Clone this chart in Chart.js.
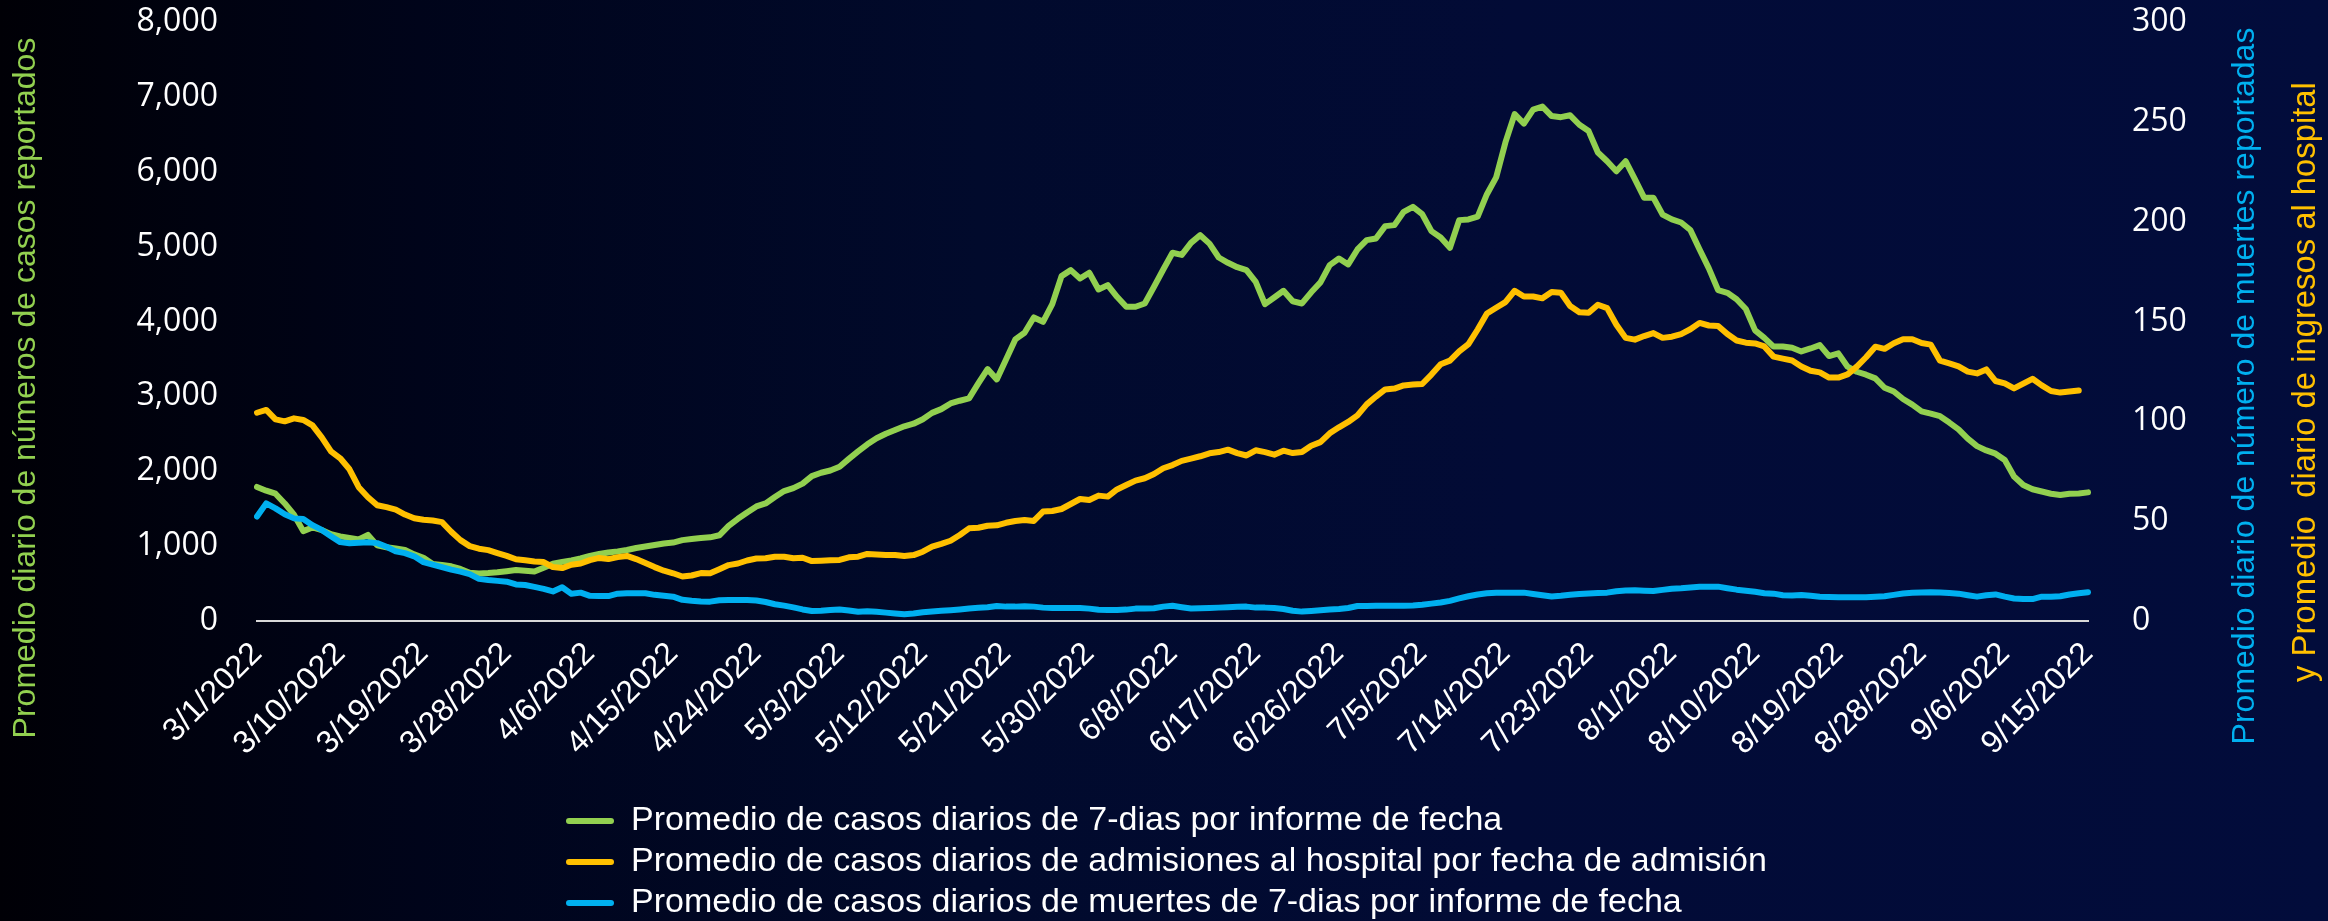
<!DOCTYPE html>
<html>
<head>
<meta charset="utf-8">
<script src="https://cdn.jsdelivr.net/npm/chart.js@4.4.1/dist/chart.umd.min.js"></script>
<style>
html,body{margin:0;padding:0;width:2328px;height:921px;overflow:hidden;}
body{background:linear-gradient(to right,#000006 0%,#00041a 18%,#010a2c 42%,#020b36 65%,#020c3b 100%);}
canvas{display:block;}
</style>
</head>
<body>
<canvas id="c" width="2328" height="921"></canvas>
<script>
const categories = [
"3/1/2022","3/2/2022","3/3/2022","3/4/2022","3/5/2022","3/6/2022","3/7/2022","3/8/2022","3/9/2022","3/10/2022",
"3/11/2022","3/12/2022","3/13/2022","3/14/2022","3/15/2022","3/16/2022","3/17/2022","3/18/2022","3/19/2022","3/20/2022",
"3/21/2022","3/22/2022","3/23/2022","3/24/2022","3/25/2022","3/26/2022","3/27/2022","3/28/2022","3/29/2022","3/30/2022","3/31/2022",
"4/1/2022","4/2/2022","4/3/2022","4/4/2022","4/5/2022","4/6/2022","4/7/2022","4/8/2022","4/9/2022","4/10/2022",
"4/11/2022","4/12/2022","4/13/2022","4/14/2022","4/15/2022","4/16/2022","4/17/2022","4/18/2022","4/19/2022","4/20/2022",
"4/21/2022","4/22/2022","4/23/2022","4/24/2022","4/25/2022","4/26/2022","4/27/2022","4/28/2022","4/29/2022","4/30/2022",
"5/1/2022","5/2/2022","5/3/2022","5/4/2022","5/5/2022","5/6/2022","5/7/2022","5/8/2022","5/9/2022","5/10/2022",
"5/11/2022","5/12/2022","5/13/2022","5/14/2022","5/15/2022","5/16/2022","5/17/2022","5/18/2022","5/19/2022","5/20/2022",
"5/21/2022","5/22/2022","5/23/2022","5/24/2022","5/25/2022","5/26/2022","5/27/2022","5/28/2022","5/29/2022","5/30/2022","5/31/2022",
"6/1/2022","6/2/2022","6/3/2022","6/4/2022","6/5/2022","6/6/2022","6/7/2022","6/8/2022","6/9/2022","6/10/2022",
"6/11/2022","6/12/2022","6/13/2022","6/14/2022","6/15/2022","6/16/2022","6/17/2022","6/18/2022","6/19/2022","6/20/2022",
"6/21/2022","6/22/2022","6/23/2022","6/24/2022","6/25/2022","6/26/2022","6/27/2022","6/28/2022","6/29/2022","6/30/2022",
"7/1/2022","7/2/2022","7/3/2022","7/4/2022","7/5/2022","7/6/2022","7/7/2022","7/8/2022","7/9/2022","7/10/2022",
"7/11/2022","7/12/2022","7/13/2022","7/14/2022","7/15/2022","7/16/2022","7/17/2022","7/18/2022","7/19/2022","7/20/2022",
"7/21/2022","7/22/2022","7/23/2022","7/24/2022","7/25/2022","7/26/2022","7/27/2022","7/28/2022","7/29/2022","7/30/2022","7/31/2022",
"8/1/2022","8/2/2022","8/3/2022","8/4/2022","8/5/2022","8/6/2022","8/7/2022","8/8/2022","8/9/2022","8/10/2022",
"8/11/2022","8/12/2022","8/13/2022","8/14/2022","8/15/2022","8/16/2022","8/17/2022","8/18/2022","8/19/2022","8/20/2022",
"8/21/2022","8/22/2022","8/23/2022","8/24/2022","8/25/2022","8/26/2022","8/27/2022","8/28/2022","8/29/2022","8/30/2022","8/31/2022",
"9/1/2022","9/2/2022","9/3/2022","9/4/2022","9/5/2022","9/6/2022","9/7/2022","9/8/2022","9/9/2022","9/10/2022",
"9/11/2022","9/12/2022","9/13/2022","9/14/2022","9/15/2022"
];

const tickLabels = ["3/1/2022","3/10/2022","3/19/2022","3/28/2022","4/6/2022","4/15/2022","4/24/2022","5/3/2022",
"5/12/2022","5/21/2022","5/30/2022","6/8/2022","6/17/2022","6/26/2022","7/5/2022","7/14/2022","7/23/2022",
"8/1/2022","8/10/2022","8/19/2022","8/28/2022","9/6/2022","9/15/2022"];

// left axis: 7-day average of reported cases
const casesAvg = [
1790,1740,1700,1570,1420,1200,1250,1215,1160,1130,
1110,1090,1150,1010,985,970,950,890,845,760,
748,730,695,645,636,640,650,665,680,670,
660,710,765,790,810,835,870,895,915,930,
948,975,995,1015,1035,1048,1080,1095,1108,1117,
1145,1270,1365,1450,1530,1570,1655,1735,1775,1835,
1935,1980,2010,2060,2165,2265,2360,2440,2500,2550,
2600,2635,2695,2780,2830,2905,2942,2973,3173,3364,
3227,3493,3761,3850,4054,3996,4232,4606,4686,4575,
4651,4428,4486,4330,4197,4197,4241,4464,4695,4918,
4890,5050,5153,5040,4855,4784,4725,4686,4530,4232,
4321,4410,4270,4241,4390,4522,4753,4842,4762,4962,
5087,5109,5274,5287,5465,5532,5434,5207,5122,4984,
5354,5363,5400,5700,5925,6392,6769,6644,6830,6870,
6744,6729,6754,6628,6543,6257,6141,6006,6141,5900,
5654,5654,5428,5363,5322,5222,4961,4710,4418,4383,
4298,4167,3881,3781,3665,3665,3650,3600,3640,3685,
3538,3574,3396,3329,3290,3240,3115,3065,2965,2890,
2800,2770,2735,2650,2560,2435,2336,2278,2235,2150,
1930,1816,1760,1730,1700,1682,1700,1704,1718
];

// right axis: hospital admissions
const hospAdmissions = [
104.3,105.7,101,100,101.5,100.7,98,92,85,81.5,
76,67,62,58,57,55.8,53.3,51.5,50.7,50.3,
49.5,44.7,40.5,37.5,36.2,35.5,34,32.6,30.9,30.4,
29.8,29.5,27,26.5,28.2,28.8,30.5,31.6,31,32,
32.6,31,29,27,25.2,23.9,22.3,22.8,24,23.9,
25.9,28,28.8,30.3,31.3,31.4,32.2,32.2,31.4,31.7,
30,30.2,30.4,30.6,31.9,32.2,33.6,33.3,33.1,33.1,
32.6,33,34.7,37.2,38.6,40.2,43.1,46.4,46.7,47.7,
47.9,49.2,50.1,50.6,50.1,54.8,55.1,56.1,58.6,61.1,
60.6,62.8,62.3,65.9,68.1,70.3,71.5,73.6,76.5,78.1,
80.2,81.3,82.5,84,84.6,85.8,84.1,82.9,85.5,84.6,
83.3,85.3,84.1,84.6,87.8,89.6,94,97,99.7,103,
108.5,112.4,116,116.4,118,118.4,118.7,123.4,128.6,130.4,
135,138.7,146,154,156.9,159.7,165.4,162.5,162.5,161.6,
164.8,164.4,157.8,154.6,154.4,158.4,156.7,148.4,141.8,140.9,
142.7,144.2,141.8,142.4,143.7,146.1,149.3,148,147.8,143.7,
140.5,139.4,139,137.5,132.4,131.4,130.5,127.5,125.3,124.5,
121.9,121.9,123.5,127.4,132.1,137.4,136.3,139.1,141.1,141.1,
139.2,138.4,130.4,129,127.5,124.9,124,126,120.2,119,
116.5,118.9,121.3,118,115.2,114.4,114.9,115.4,null
];

// right axis: 7-day average of deaths
const deathsAvg = [
52.3,58.9,56.4,53.5,51.4,51.1,48,45.6,42.5,39.5,
38.9,39.2,39.4,39,37.2,34.9,34,32.4,29.5,28.2,
27,25.7,24.7,23.5,21.1,20.5,20.1,19.7,18.3,18,
17.1,16.1,14.8,16.9,13.6,14.2,12.6,12.5,12.5,13.7,
13.9,13.9,13.9,13.1,12.6,12.2,10.6,10.1,9.8,9.7,
10.4,10.5,10.5,10.5,10.3,9.5,8.4,7.7,6.8,5.8,
5,5.1,5.5,5.8,5.3,4.6,4.9,4.6,4.2,3.8,
3.4,3.8,4.4,4.8,5.1,5.4,5.8,6.3,6.6,6.9,
7.5,7.2,7.2,7.4,7.2,6.7,6.5,6.5,6.5,6.5,
6.2,5.6,5.5,5.5,5.7,6.2,6.2,6.4,7.2,7.6,
6.9,6.3,6.4,6.5,6.7,6.9,7.1,7.2,6.7,6.7,
6.5,6,5.1,4.7,5,5.4,5.8,6,6.5,7.5,
7.5,7.6,7.7,7.7,7.7,7.8,8.1,8.7,9.3,10.1,
11.3,12.4,13.3,13.9,14.2,14.2,14.2,14.2,13.5,12.9,
12.3,12.6,13.1,13.5,13.8,14,14.2,14.9,15.3,15.4,
15.2,15,15.6,16.2,16.4,16.8,17.1,17.1,17.2,16.4,
15.7,15.2,14.6,13.9,13.7,12.9,12.8,13,12.6,12.2,
12,11.9,11.9,11.9,11.9,12.2,12.4,13.1,13.8,14.1,
14.3,14.4,14.3,14,13.7,12.9,12.2,12.9,13.3,12.2,
11.3,11,11,12.2,12.2,12.4,13.3,13.9,14.4
];

const seriesNames = [
"Promedio de casos diarios de 7-dias por informe de fecha",
"Promedio de casos diarios de admisiones al hospital por fecha de admisión",
"Promedio de casos diarios de muertes de 7-dias por informe de fecha"
];
const leftTitle = "Promedio diario de números de casos reportados";
const rightTitle1 = "Promedio diario de número de muertes reportadas";
const rightTitle2 = "y Promedio  diario de ingresos al hospital";

const GREEN = '#92d050', YELLOW = '#ffc000', BLUE = '#00b0f0';
const TXT = "'Liberation Sans', Arial, sans-serif";
const NUM = "'Open Sans', 'Noto Sans', sans-serif";

const titlesPlugin = {
  id: 'axisTitles',
  afterDraw(chart) {
    const ctx = chart.ctx;
    const draw = (text, x, y, color, size) => {
      ctx.save();
      ctx.translate(x, y);
      ctx.rotate(-Math.PI / 2);
      ctx.font = size + "px " + TXT;
      ctx.fillStyle = color;
      ctx.textAlign = 'center';
      ctx.textBaseline = 'middle';
      ctx.fillText(text, 0, 0);
      ctx.restore();
    };
    draw(leftTitle, 26, 388, GREEN, 32);
    draw(rightTitle1, 2245, 386, BLUE, 32);
    draw(rightTitle2, 2306, 382, YELLOW, 32.8);
  }
};

const legendPlacer = {
  id: 'legendPlacer',
  beforeDraw(chart) {
    const lg = chart.legend;
    if (!lg) return;
    const h = lg.height;
    lg.left = 559; lg.right = 2328; lg.width = lg.right - lg.left;
    lg.top = 797; lg.bottom = 797 + h;
  }
};

function build() {
  new Chart(document.getElementById('c'), {
    type: 'line',
    data: {
      labels: categories,
      datasets: [
        {label: seriesNames[0], data: casesAvg, yAxisID: 'y', borderColor: GREEN, backgroundColor: GREEN, order: 3},
        {label: seriesNames[1], data: hospAdmissions, yAxisID: 'y1', borderColor: YELLOW, backgroundColor: YELLOW, order: 2},
        {label: seriesNames[2], data: deathsAvg, yAxisID: 'y1', borderColor: BLUE, backgroundColor: BLUE, order: 1}
      ]
    },
    options: {
      responsive: false,
      animation: false,
      devicePixelRatio: 1,
      elements: {
        line: {borderWidth: 6, tension: 0, borderJoinStyle: 'round', borderCapStyle: 'round', fill: false},
        point: {radius: 0, hoverRadius: 0}
      },
      layout: {padding: {top: 22, left: 0, right: 0, bottom: 0}},
      plugins: {
        tooltip: {enabled: false},
        legend: {
          position: 'bottom',
          fullSize: false,
          align: 'start',
          labels: {
            color: '#ffffff',
            font: {family: TXT, size: 34},
            boxWidth: 48,
            boxHeight: 6,
            padding: 7,
            generateLabels(chart) {
              return chart.data.datasets.map((ds, i) => ({
                text: ds.label, fillStyle: ds.borderColor, strokeStyle: ds.borderColor,
                lineWidth: 0, hidden: false, datasetIndex: i, borderRadius: 3, fontColor: '#ffffff'
              }));
            }
          }
        }
      },
      scales: {
        x: {
          type: 'category',
          offset: false,
          grid: {display: false, drawTicks: false},
          border: {display: true, color: '#d9d9d9', width: 2},
          ticks: {
            autoSkip: false, maxRotation: 45, minRotation: 45, padding: 14,
            color: '#ffffff', font: {family: TXT, size: 32},
            callback(value, index) {
              const l = categories[index];
              return tickLabels.includes(l) ? l : null;
            }
          },
          afterFit(s) { s.height = 167; }
        },
        y: {
          position: 'left', min: 0, max: 8000,
          grid: {display: false, drawTicks: false},
          border: {display: false},
          ticks: {stepSize: 1000, padding: 39, color: '#ffffff', font: {family: NUM, size: 32}},
          afterFit(s) { s.width = 257; s.paddingTop = 0; s.paddingBottom = 0; }
        },
        y1: {
          position: 'right', min: 0, max: 300,
          grid: {display: false, drawTicks: false},
          border: {display: false},
          ticks: {stepSize: 50, padding: 44, color: '#ffffff', font: {family: NUM, size: 32}},
          afterFit(s) { s.width = 240; s.paddingTop = 0; s.paddingBottom = 0; }
        }
      }
    },
    plugins: [titlesPlugin, legendPlacer]
  });
}

const fontLoads = [
  document.fonts.load("32px 'Open Sans'"),
  document.fonts.load("32px 'Liberation Sans'")
];
Promise.all(fontLoads).then(build, build);
</script>
</body>
</html>
